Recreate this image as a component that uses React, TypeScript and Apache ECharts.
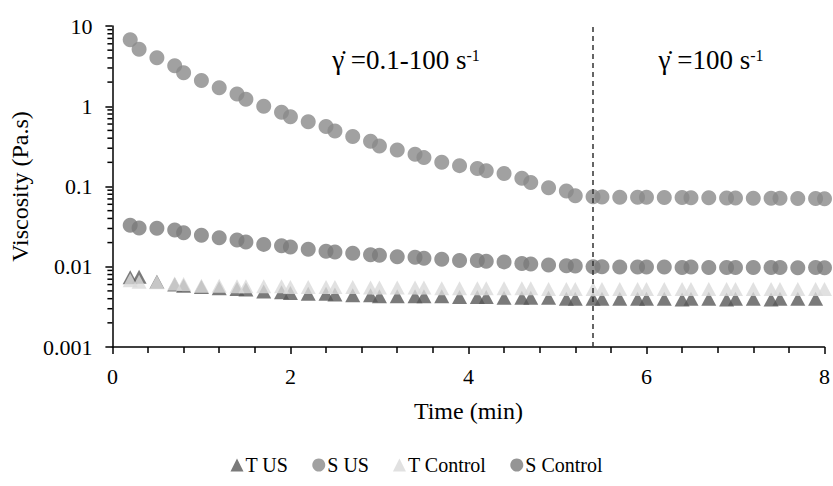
import React, { useEffect, useRef } from "react";
import * as echarts from "echarts";

const times = [
  0.2, 0.3, 0.5, 0.7, 0.8, 1.0, 1.2, 1.4, 1.5, 1.7, 1.9, 2.0, 2.2, 2.4, 2.5, 2.7,
  2.9, 3.0, 3.2, 3.4, 3.5, 3.7, 3.9, 4.1, 4.2, 4.4, 4.6, 4.7, 4.9, 5.1, 5.2, 5.4,
  5.5, 5.7, 5.9, 6.0, 6.2, 6.4, 6.5, 6.7, 6.9, 7.0, 7.2, 7.4, 7.5, 7.7, 7.9, 8.0,
];

const tUS = [
  0.0074, 0.0075, 0.0065, 0.006, 0.0058, 0.0056, 0.0054, 0.0053, 0.0052, 0.0049,
  0.0048, 0.0047, 0.0046, 0.0046, 0.0045, 0.0044, 0.0044, 0.0043, 0.0043, 0.0043,
  0.0043, 0.0043, 0.0042, 0.0042, 0.0042, 0.0041, 0.0041, 0.0041, 0.0041, 0.004,
  0.004, 0.004, 0.004, 0.004, 0.004, 0.004, 0.004, 0.0039, 0.004, 0.004, 0.0039,
  0.004, 0.004, 0.0039, 0.004, 0.004, 0.004,
];

const sUS = [
  6.75, 5.13, 4.03, 3.2, 2.62, 2.1, 1.7, 1.42, 1.22, 1.0, 0.84, 0.74, 0.64, 0.56,
  0.49, 0.42, 0.366, 0.32, 0.285, 0.252, 0.229, 0.2, 0.182, 0.168, 0.157, 0.145,
  0.127, 0.112, 0.0967, 0.0879, 0.0768, 0.0746, 0.0741, 0.0734, 0.0734, 0.0734,
  0.073, 0.0728, 0.0726, 0.0722, 0.072, 0.0718, 0.0716, 0.0714, 0.0712, 0.071,
  0.0708, 0.0706,
];

const tControl = [
  0.0068, 0.0065, 0.0064, 0.0062, 0.0061, 0.0058, 0.0058, 0.0057, 0.0057, 0.0057,
  0.0057, 0.0056, 0.0056, 0.0056, 0.0056, 0.0056, 0.0055, 0.0055, 0.0055, 0.0055,
  0.0055, 0.0054, 0.0054, 0.0054, 0.0054, 0.0054, 0.0054, 0.0054, 0.0053, 0.0053,
  0.0053, 0.0053, 0.0053, 0.0053, 0.0053, 0.0053, 0.0053, 0.0053, 0.0053, 0.0053,
  0.0053, 0.0053, 0.0053, 0.0053, 0.0053, 0.0053, 0.0053, 0.0053,
];

const sControl = [
  0.0329, 0.0304, 0.0302, 0.0287, 0.0266, 0.0247, 0.023, 0.0216, 0.0203, 0.019,
  0.0183, 0.0176, 0.0165, 0.0156, 0.0153, 0.0147, 0.0141, 0.0139, 0.0133, 0.0131,
  0.0128, 0.0124, 0.012, 0.012, 0.0117, 0.0115, 0.011, 0.0108, 0.0105, 0.0103,
  0.0102, 0.01, 0.01, 0.0099, 0.0099, 0.0099, 0.0099, 0.0098, 0.0099, 0.0098,
  0.0098, 0.0098, 0.0098, 0.0098, 0.0098, 0.0097, 0.0098, 0.0097,
];

const seriesNames = ["T US", "S US", "T Control", "S Control"];
const yMinorTicks = [
  0.002, 0.003, 0.004, 0.005, 0.006, 0.007, 0.008, 0.009,
  0.02, 0.03, 0.04, 0.05, 0.06, 0.07, 0.08, 0.09,
  0.2, 0.3, 0.4, 0.5, 0.6, 0.7, 0.8, 0.9,
  2, 3, 4, 5, 6, 7, 8, 9,
];
const phaseBoundary = 5.4;
const annotation1 = ["γ\u0307", " =0.1-100 s", "-1"];
const annotation2 = ["γ\u0307", " =100 s", "-1"];

const FONT = "Liberation Serif";

function pairs(vals: number[]) {
  return vals.map((v, i) => [times[i], v]);
}

function richLabel(parts: string[]) {
  return `{g|${parts[0]}}{m|${parts[1]}}{s|${parts[2]}}`;
}

const rich = {
  g: { fontSize: 27, fontFamily: FONT, lineHeight: 30, fill: "#000" },
  m: { fontSize: 27, fontFamily: FONT, lineHeight: 30, fill: "#000" },
  s: { fontSize: 16, fontFamily: FONT, lineHeight: 16, verticalAlign: "top", fill: "#000", padding: [2, 0, 0, 0] },
};

export default function App() {
  const ref = useRef<HTMLDivElement>(null);
  useEffect(() => {
    if (!ref.current) return;
    const chart = echarts.init(ref.current, null, { renderer: "svg" });
    const option: any = {
      animation: false,
      backgroundColor: "#fff",
      textStyle: { fontFamily: FONT },
      grid: { left: 111, right: 5, top: 26, bottom: 139, containLabel: false },
      xAxis: {
        type: "value",
        min: 0,
        max: 8,
        interval: 2,
        name: "Time (min)",
        nameLocation: "middle",
        nameGap: 52,
        nameTextStyle: { fontSize: 24, fontFamily: FONT, color: "#000" },
        axisLine: { show: true, lineStyle: { color: "#000", width: 1.5 } },
        axisTick: { show: true, inside: false, length: 7, lineStyle: { color: "#000", width: 1.5 } },
        minorTick: { show: true, splitNumber: 5, length: 6, lineStyle: { color: "#000", width: 1.5 } },
        splitLine: { show: false },
        minorSplitLine: { show: false },
        axisLabel: { fontSize: 22, fontFamily: FONT, color: "#000", margin: 18 },
      },
      yAxis: {
        type: "log",
        logBase: 10,
        min: 0.001,
        max: 10,
        name: "Viscosity (Pa.s)",
        nameLocation: "middle",
        nameGap: 68,
        nameTextStyle: { fontSize: 24, fontFamily: FONT, color: "#000" },
        axisLine: { show: true, lineStyle: { color: "#000", width: 1.5 } },
        axisTick: { show: true, inside: false, length: 7, lineStyle: { color: "#000", width: 1.5 } },
        splitLine: { show: false },
        axisLabel: { fontSize: 22, fontFamily: FONT, color: "#000", margin: 20 },
      },
      legend: {
        data: seriesNames,
        left: "center",
        bottom: 6,
        itemWidth: 13,
        itemHeight: 13,
        itemGap: 24,
        textStyle: { fontSize: 20, fontFamily: FONT, color: "#000", padding: [0, 0, 0, -3] },
      },
      graphic: [
        {
          type: "text",
          x: 406,
          y: 60,
          style: { text: richLabel(annotation1), rich, font: "27px Liberation Serif", align: "center", verticalAlign: "middle" },
        },
        {
          type: "text",
          x: 711,
          y: 60,
          style: { text: richLabel(annotation2), rich, font: "27px Liberation Serif", align: "center", verticalAlign: "middle" },
        },
      ],
      series: [
        {
          name: seriesNames[0],
          type: "scatter",
          symbol: "triangle",
          symbolSize: [15, 14],
          itemStyle: { color: "#595959" },
          data: pairs(tUS),
          markLine: {
            silent: true,
            symbol: "none",
            label: { show: false },
            lineStyle: { type: [5, 4], color: "#333", width: 1.5 },
            data: [{ xAxis: phaseBoundary }],
          },
        },
        {
          name: seriesNames[1],
          type: "scatter",
          symbol: "circle",
          symbolSize: 15,
          itemStyle: { color: "#898989" },
          data: pairs(sUS),
        },
        {
          name: seriesNames[2],
          type: "scatter",
          symbol: "triangle",
          symbolSize: [15, 14],
          itemStyle: { color: "#d9d9d9" },
          data: pairs(tControl),
        },
        {
          name: seriesNames[3],
          type: "scatter",
          symbol: "circle",
          symbolSize: 15,
          itemStyle: { color: "#7a7a7a" },
          data: pairs(sControl),
        },
        {
          name: "yMinor",
          type: "custom",
          silent: true,
          clip: false,
          z: 10,
          encode: { x: 0, y: 1 },
          data: yMinorTicks.map((v) => [0, v]),
          renderItem: (params: any, api: any) => {
            const p = api.coord([api.value(0), api.value(1)]);
            return {
              type: "line",
              shape: { x1: p[0] - 5, y1: p[1], x2: p[0], y2: p[1] },
              style: { stroke: "#000", lineWidth: 1.5 },
            };
          },
        },
      ],
    };
    chart.setOption(option);
    return () => chart.dispose();
  }, []);
  return <div ref={ref} style={{ position: "fixed", left: 0, top: 0, width: 833, height: 486 }} />;
}
